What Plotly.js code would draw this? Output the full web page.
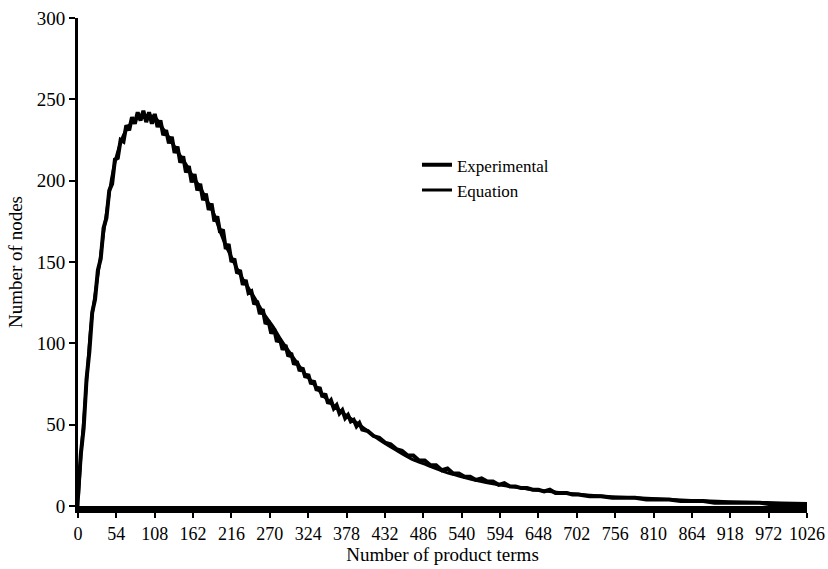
<!DOCTYPE html>
<html>
<head>
<meta charset="utf-8">
<script src="https://cdn.plot.ly/plotly-3.0.1.min.js"></script>
<style>html,body{margin:0;padding:0;background:#fff;}#chart{width:828px;height:569px;}</style>
</head>
<body>
<div id="chart"></div>
<script>
// Experimental series (noisy)
const expX = [0,4,8,12,16,20,24,28,32,36,40,44,48,52,56,60,64,68,72,76,80,84,88,92,96,100,
  104,108,112,116,120,124,128,132,136,140,144,148,152,156,160,164,168,172,176,180,184,188,192,196,200,
  204,208,212,216,220,224,228,232,236,240,244,248,252,256,260,264,268,272,276,280,284,288,292,296,300,
  304,308,312,316,320,324,328,332,336,340,344,348,352,356,360,364,368,372,376,380,384,388,392,396,400,
  408,416,424,432,440,448,456,464,472,480,488,496,504,512,520,528,536,544,552,560,568,576,584,592,600,
  608,616,624,632,640,648,656,664,672,680,688,696,704,
  720,736,752,768,784,800,816,832,848,864,880,896,912,928,944,960,976,992,1008,1026];
const expY = [6,32,48,78,95,119,127,145,152,171,177,194,198,213,214,225,224,234,231,239,235,242,237,243,236,242,
  235,241,233,237,228,231,223,227,217,221,211,215,205,209,199,204,194,198,188,192,182,186,175,178,168,
  170,158,161,150,152,143,145,136,139,131,132,124,126,118,121,112,114,106,109,101,103,96,99,92,94,
  87,89,83,85,79,81,75,77,71,73,67,69,63,65,60,62,57,59,54,56,52,53,49,51,47,
  46,43,42,39,38,35,34,31,31,28,28,25,25,22,23,20,20,18,18,16,17,15,15,13,14,
  12,12,11,11,10,10,9,10,8,8,8,7,7,
  6,6,5,5,5,4,4,4,3,3,3,2,2,2,2,2,1,1,1,1];

// Equation series (smooth)
const eqX = [0,4,9,14,18,24,30,36,42,48,56,64,72,82,94,108,118,126,140,152,164,172,180,190,199,208,217,
  230,240,250,262,275,286,297,310,320,330,343,356,370,390,405,423,445,469,492,516,540,563,586,609,632,656,
  680,705,730,756,786,815,842,870,900,930,960,990,1026];
const eqY = [0,30,58,88,110,130,148,168,186,203,218,228,234,238,240,239,233,228,218,210,201,196,189,181,170,160,152,
  141,134,127,118,110,102,95,87,81,76,69,63,58,52,47,41,35,29,25,21,18,15.5,13.5,12,10.5,9.3,
  8.2,7.2,6.3,5.6,5,4.4,3.8,3.3,2.9,2.5,2.2,1.9,1.6];

const xTicks = [0,54,108,162,216,270,324,378,432,486,540,594,648,702,756,810,864,918,972,1026];
const yTicks = [0,50,100,150,200,250,300];

const FONT = 'Liberation Serif, Times New Roman, serif';

const traces = [
  {x: expX, y: expY, type: 'scatter', mode: 'lines', name: 'Experimental',
   line: {color: '#000', width: 4}},
  {x: eqX, y: eqY, type: 'scatter', mode: 'lines', name: 'Equation',
   line: {color: '#000', width: 3, shape: 'spline'}}
];

const layout = {
  width: 828, height: 569,
  margin: {l: 78, r: 21, t: 18, b: 63},
  paper_bgcolor: '#fff', plot_bgcolor: '#fff',
  font: {family: FONT, size: 19, color: '#000'},
  showlegend: true,
  legend: {x: 0.465, y: 0.735, xanchor: 'left', yanchor: 'top', bgcolor: 'rgba(0,0,0,0)',
           font: {family: FONT, size: 17, color: '#000'}, itemwidth: 30, tracegroupgap: 0},
  xaxis: {
    range: [0, 1026], tickvals: xTicks, ticktext: xTicks.map(String),
    showgrid: false, zeroline: false, showline: true, linecolor: '#000', linewidth: 7,
    ticks: 'outside', ticklen: 5, tickwidth: 2, tickcolor: '#000',
    ticklabeloverflow: 'allow',
    tickfont: {family: FONT, size: 18, color: '#000'},
    title: {text: 'Number of product terms', font: {family: FONT, size: 19, color: '#000'}, standoff: 7}
  },
  yaxis: {
    range: [0, 300], tickvals: yTicks, ticktext: yTicks.map(String),
    showgrid: false, zeroline: false, showline: true, linecolor: '#000', linewidth: 3,
    ticks: 'outside', ticklen: 6, tickwidth: 2, tickcolor: '#000',
    ticklabeloverflow: 'allow',
    tickfont: {family: FONT, size: 19, color: '#000'},
    title: {text: 'Number of nodes', font: {family: FONT, size: 19, color: '#000'}, standoff: 10}
  }
};

Plotly.newPlot('chart', traces, layout, {displayModeBar: false, staticPlot: true});
</script>
</body>
</html>
